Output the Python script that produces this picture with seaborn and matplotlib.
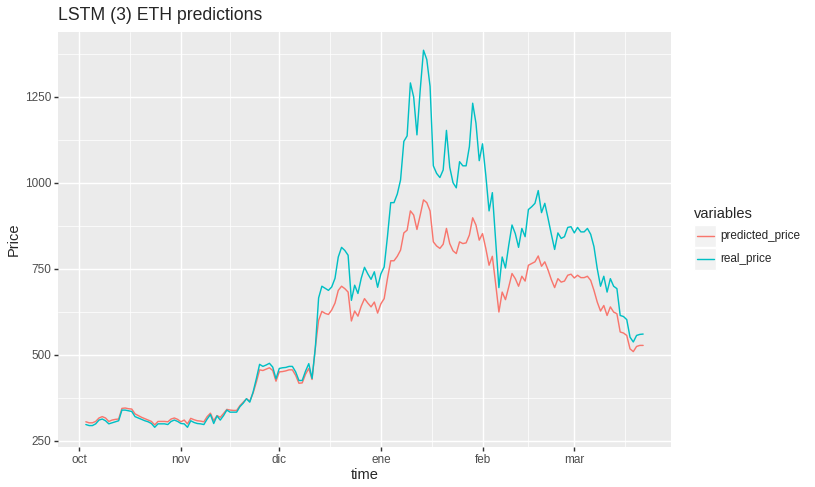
import pandas as pd
import matplotlib
matplotlib.use("Agg")
import matplotlib.pyplot as plt
from matplotlib.patches import Rectangle
from matplotlib.lines import Line2D
import seaborn as sns

# daily values, 3 Oct 2017 .. 22 Mar 2018
real_oct = [297, 294, 294, 299, 310, 313, 308, 299, 302, 305, 308, 339, 339, 337, 335,
            320, 316, 312, 308, 305, 300, 289, 299, 299, 299, 297, 306, 310, 306]
real_nov = [300, 299, 289, 308, 303, 300, 299, 297, 313, 326, 300, 322, 310, 323, 339,
            333, 333, 333, 349, 359, 372, 362, 391, 430, 472, 466, 470, 475, 464, 430]
real_dec = [460, 462, 463, 466, 466, 450, 425, 425, 452, 474, 431, 520, 665, 699, 693, 687,
            697, 722, 784, 812, 803, 789, 658, 702, 678, 722, 754, 735, 719, 741, 696]
real_jan = [735, 755, 843, 942, 942, 967, 1008, 1120, 1136, 1290, 1249, 1139, 1270, 1385,
            1358, 1280, 1049, 1027, 1015, 1037, 1152, 1045, 1000, 985, 1061, 1049, 1049,
            1105, 1231, 1173, 1064]
real_feb = [1113, 1022, 918, 971, 833, 695, 784, 752, 818, 877, 852, 812, 867, 843, 922,
            930, 940, 977, 913, 940, 896, 850, 806, 854, 838, 843, 870, 872]
real_mar = [854, 870, 857, 857, 867, 850, 814, 750, 699, 728, 682, 721, 699, 692, 614,
            611, 602, 551, 537, 556, 559, 560]

pred_oct = [305, 302, 302, 306, 316, 320, 316, 306, 310, 312, 313, 344, 345, 343, 342,
            328, 323, 318, 314, 310, 306, 296, 306, 306, 306, 305, 313, 316, 312]
pred_nov = [305, 310, 299, 315, 311, 308, 307, 305, 320, 330, 308, 323, 318, 329, 341,
            339, 338, 338, 352, 362, 372, 365, 388, 420, 456, 454, 458, 462, 454, 423]
pred_dec = [450, 451, 453, 456, 456, 440, 417, 418, 443, 460, 428, 520, 600, 626, 620, 617,
            630, 650, 687, 699, 692, 682, 598, 627, 612, 641, 663, 650, 639, 653, 621]
pred_jan = [648, 663, 721, 773, 773, 786, 804, 854, 862, 918, 906, 864, 906, 950, 942, 918,
            828, 816, 809, 821, 867, 823, 802, 794, 828, 823, 825, 848, 898, 877, 833]
pred_feb = [852, 809, 760, 786, 707, 624, 682, 660, 697, 736, 721, 699, 728, 714, 760,
            765, 770, 787, 757, 770, 746, 718, 695, 721, 711, 714, 731, 734]
pred_mar = [723, 731, 724, 724, 728, 716, 687, 653, 627, 643, 614, 639, 624, 619, 566,
            563, 556, 517, 509, 524, 527, 527]

month_starts = ["2017-10-01", "2017-11-01", "2017-12-01", "2018-01-01",
                "2018-02-01", "2018-03-01", "2018-04-01"]
month_labels = ["oct", "nov", "dic", "ene", "feb", "mar"]
y_ticks = [250, 500, 750, 1000, 1250]
series_names = ["predicted_price", "real_price"]
colors = ["#F8766D", "#00BFC4"]

W, H = 815, 487
DPI = 96


def build_frame():
    real = real_oct + real_nov + real_dec + real_jan + real_feb + real_mar
    pred = pred_oct + pred_nov + pred_dec + pred_jan + pred_feb + pred_mar
    days = pd.date_range("2017-10-03", "2018-03-22", freq="D")
    df = pd.DataFrame({"time": days, "predicted_price": pred, "real_price": real})
    return df.melt(id_vars="time", var_name="variables", value_name="Price")


def fx(px):
    return px / W


def fy(py):
    return 1 - py / H


def plot(df):
    sns.set_theme(style="darkgrid")
    plt.rcParams["font.family"] = ["Liberation Sans", "DejaVu Sans"]

    fig = plt.figure(figsize=(W / DPI, H / DPI), dpi=DPI)
    ax = fig.add_axes([fx(58), fy(447), 613 / W, 415 / H])
    ax.set_facecolor("#EBEBEB")

    sns.lineplot(data=df, x="time", y="Price", hue="variables", hue_order=series_names,
                 palette=colors, linewidth=1.07, legend=False, ax=ax)

    ax.set_xlim(pd.Timestamp("2017-09-24 12:00"), pd.Timestamp("2018-03-30 12:00"))
    ax.set_ylim(231.7, 1438)

    starts = pd.to_datetime(month_starts)
    mids = [a + (b - a) / 2 for a, b in zip(starts[:-1], starts[1:])]
    ax.set_xticks(starts[:-1])
    ax.set_xticklabels(month_labels)
    ax.set_xticks(mids, minor=True)
    ax.set_yticks(y_ticks)
    ax.set_yticks([v + 125 for v in y_ticks], minor=True)

    ax.grid(which="major", color="white", linewidth=1.07)
    ax.grid(which="minor", color="white", linewidth=0.53)
    ax.set_axisbelow(True)
    for s in ax.spines.values():
        s.set_visible(False)
    ax.tick_params(which="major", length=2.75, width=1.07, color="#333333",
                   labelsize=8.8, labelcolor="#4D4D4D", pad=2.2, bottom=True, left=True)
    ax.tick_params(which="minor", length=0)

    ax.set_xlabel("")
    ax.set_ylabel("")
    ax.set_title("LSTM (3) ETH predictions", loc="left", fontsize=13.2, pad=9)
    fig.text(fx(364.5), fy(475), "time", fontsize=11, ha="center", va="center")
    fig.text(fx(14), fy(239.5), "Price", fontsize=11, rotation=90, ha="center", va="center")

    # legend, ggplot style
    fig.text(fx(694), fy(214), "variables", fontsize=11, ha="left", va="center")
    for i, (name, c) in enumerate(zip(series_names, colors)):
        top = 225 + i * 23
        fig.add_artist(Rectangle((fx(694), fy(top + 21.7)), 21.7 / W, 21.7 / H,
                                 transform=fig.transFigure, facecolor="#F2F2F2",
                                 edgecolor="white", linewidth=1))
        yc = top + 10.8
        fig.add_artist(Line2D([fx(696.5), fx(713.5)], [fy(yc), fy(yc)],
                              transform=fig.transFigure, color=c, linewidth=1.07))
        fig.text(fx(720), fy(yc), name, fontsize=8.8, ha="left", va="center")

    fig.savefig("out.png", dpi=DPI)


def main():
    df = build_frame()
    plot(df)


if __name__ == "__main__":
    main()
